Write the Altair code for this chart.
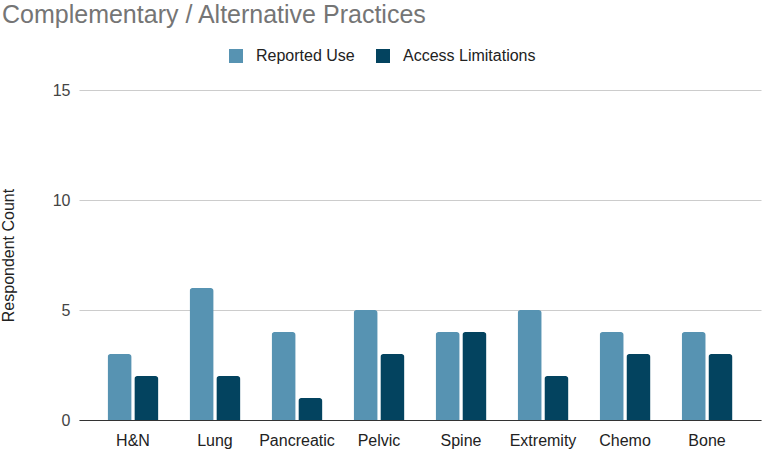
import altair as alt
import pandas as pd

categories = ["H&N", "Lung", "Pancreatic", "Pelvic", "Spine", "Extremity", "Chemo", "Bone"]
reported_use = [3, 6, 4, 5, 4, 5, 4, 4]
access_limitations = [2, 2, 1, 3, 4, 2, 3, 3]
series = ["Reported Use", "Access Limitations"]
colors = ["#5793b2", "#03435f"]

rows = []
for c, r, a in zip(categories, reported_use, access_limitations):
    rows.append({"category": c, "series": series[0], "value": r})
    rows.append({"category": c, "series": series[1], "value": a})
df = pd.DataFrame(rows)

FONT = "Liberation Sans"

chart = alt.Chart(df).mark_bar(
    cornerRadiusTopLeft=3, cornerRadiusTopRight=3
).encode(
    x=alt.X("category:N", sort=categories,
            scale=alt.Scale(paddingInner=0.38, paddingOuter=0.348),
            axis=alt.Axis(title=None, labelAngle=0, labelFontSize=16, labelColor="#222222",
                          labelFont=FONT, ticks=False, domainColor="#333333",
                          domainWidth=1, labelPadding=12)),
    xOffset=alt.XOffset("series:N", sort=series, scale=alt.Scale(paddingInner=0.1)),
    y=alt.Y("value:Q", scale=alt.Scale(domain=[0, 15]),
            axis=alt.Axis(title="Respondent Count", values=[0, 5, 10, 15], grid=True,
                          gridColor="#cccccc", ticks=False, domain=False,
                          labelFontSize=16, labelColor="#444444", labelFont=FONT,
                          labelPadding=9, titleFont=FONT, titleFontSize=16,
                          titleFontWeight="normal", titleColor="#222222", titlePadding=36)),
    color=alt.Color("series:N", sort=series,
                    scale=alt.Scale(domain=series, range=colors),
                    legend=alt.Legend(title=None, orient="none", legendX=149, legendY=-42,
                                      direction="horizontal", symbolType="square",
                                      symbolSize=196, symbolStrokeWidth=0,
                                      labelFont=FONT, labelFontSize=16, labelColor="#222222",
                                      columnPadding=20, labelOffset=12)),
).properties(
    width=682, height=330,
    title=alt.TitleParams("Complementary / Alternative Practices", anchor="start",
                          frame="group",
                          font=FONT, fontSize=25, fontWeight="normal", color="#757575",
                          dx=-77, dy=-16),
    autosize=alt.AutoSizeParams(type="none"),
    padding={"left": 79, "top": 90, "right": 4, "bottom": 29},
).configure_view(stroke=None)

chart.save("out.html", embed_options={"renderer": "svg", "actions": False})
